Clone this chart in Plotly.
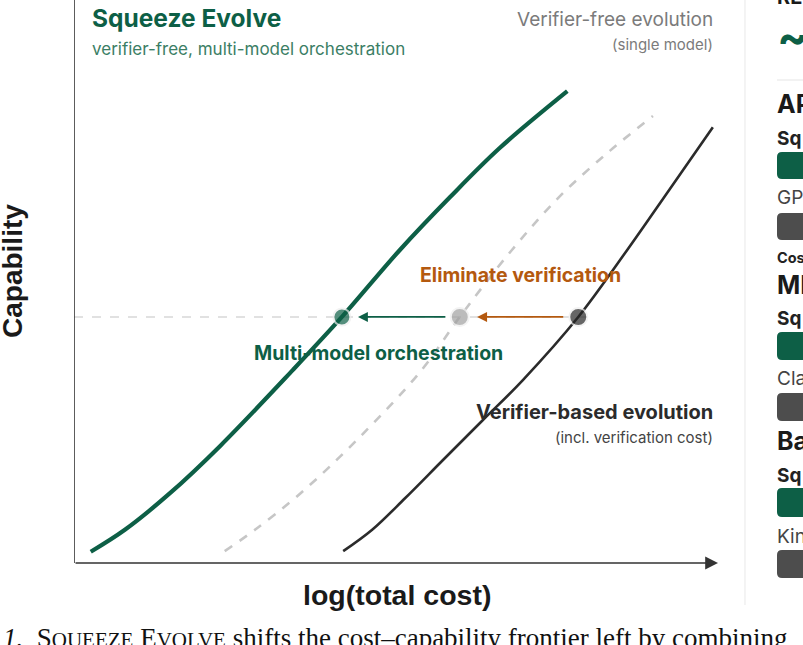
import plotly.graph_objects as go

# ---------------- data (x: log total cost, y: capability; arbitrary 0-100 units) -------------
green_x = [2.6, 7.9, 14.9, 22.7, 34.0, 41.6, 50.6, 58.4, 66.1, 76.6]
green_y = [2.0, 5.9, 12.4, 20.8, 34.3, 43.7, 55.6, 65.0, 73.7, 83.8]
gray_x = [23.4, 28.1, 35.1, 44.4, 54.0, 59.9, 68.0, 75.5, 83.2, 89.9]
gray_y = [2.1, 5.9, 12.3, 22.4, 34.3, 43.7, 55.6, 65.2, 73.2, 79.4]
black_x = [41.8, 46.3, 51.4, 57.3, 63.5, 69.7, 78.3, 85.9, 92.5, 99.2]
black_y = [2.1, 5.9, 11.5, 18.3, 25.4, 32.5, 43.7, 55.6, 66.4, 77.4]
dot_x = [41.6, 59.9, 78.3]
dot_level = 43.7
arrow_green = [57.9, 44.1]    # tail, tip
arrow_orange = [76.2, 62.6]   # tail, tip

GREEN = "#0d5f46"
GREEN_L = "#3b7e65"
ORANGE = "#b4590f"
DARK = "#2b2b2b"
GRAYLINE = "#c6c6c6"
GRAYTXT = "#7b7b7b"

W, H = 803, 645
L, R, T, B = 74, 85, 0, 82
PW, PH = W - L - R, H - T - B


def px(xp):
    return (xp - L) / PW


def py(yp):
    return (H - B - yp) / PH


fig = go.Figure()
fig.add_trace(go.Scatter(x=gray_x, y=gray_y, mode="lines", line=dict(color=GRAYLINE, width=2.6, dash="dash", shape="spline"), hoverinfo="skip"))
fig.add_trace(go.Scatter(x=black_x, y=black_y, mode="lines", line=dict(color=DARK, width=2.6, shape="spline"), hoverinfo="skip"))
fig.add_trace(go.Scatter(x=green_x, y=green_y, mode="lines", line=dict(color=GREEN, width=4.2, shape="spline"), hoverinfo="skip"))
fig.add_trace(go.Scatter(x=dot_x, y=[dot_level] * 3, mode="markers",
                         marker=dict(size=[17, 18, 18], color=[GREEN, "#a0a0a0", "#262626"],
                                     line=dict(color="#eeeeee", width=2)), hoverinfo="skip"))

shapes = []
# dashed reference line
shapes.append(dict(type="line", xref="x", yref="y", x0=0, x1=80.6, y0=dot_level, y1=dot_level,
                   line=dict(color="#d8d8d8", width=1.5, dash="dash"), layer="below"))
# y axis line
shapes.append(dict(type="line", xref="x", yref="paper", x0=0, x1=0, y0=0, y1=1,
                   line=dict(color="#333333", width=1.6)))
# right panel divider
shapes.append(dict(type="line", xref="paper", yref="paper", x0=px(745), x1=px(745), y0=py(0), y1=py(605),
                   line=dict(color="#ececec", width=1.2)))
shapes.append(dict(type="line", xref="paper", yref="paper", x0=px(777), x1=px(900), y0=py(80), y1=py(80),
                   line=dict(color="#e6e6e6", width=1.2)))


def rbar(x0, y0, x1, y1, r, color):
    X0, X1 = px(x0), px(x1)
    Y0, Y1 = py(y0), py(y1)  # Y0 top (larger), Y1 bottom
    rx, ry = r / PW, r / PH
    path = (f"M {X0+rx},{Y0} L {X1-rx},{Y0} Q {X1},{Y0} {X1},{Y0-ry} L {X1},{Y1+ry} Q {X1},{Y1} {X1-rx},{Y1} "
            f"L {X0+rx},{Y1} Q {X0},{Y1} {X0},{Y1+ry} L {X0},{Y0-ry} Q {X0},{Y0} {X0+rx},{Y0} Z")
    return dict(type="path", xref="paper", yref="paper", path=path, fillcolor=color, line=dict(width=0))


panel_bars = [(152, 179, GREEN), (213, 240, "#4d4d4d"), (332, 360, GREEN), (393, 421, "#4d4d4d"),
              (488, 517, GREEN), (550, 578, "#4d4d4d")]
for y0, y1, c in panel_bars:
    shapes.append(rbar(777, y0, 900, y1, 5, c))

ann = []
# x axis arrow
ann.append(dict(x=100, y=0, ax=0, ay=0, xref="x", yref="y", axref="x", ayref="y", text="", showarrow=True,
                arrowhead=2, arrowsize=1.6, arrowwidth=1.6, arrowcolor="#333333"))
# arrows between dots
ann.append(dict(x=arrow_green[1], y=dot_level, ax=arrow_green[0], ay=dot_level, xref="x", yref="y", axref="x",
                ayref="y", text="", showarrow=True, arrowhead=2, arrowsize=1.1, arrowwidth=1.8, arrowcolor=GREEN))
ann.append(dict(x=arrow_orange[1], y=dot_level, ax=arrow_orange[0], ay=dot_level, xref="x", yref="y", axref="x",
                ayref="y", text="", showarrow=True, arrowhead=2, arrowsize=1.1, arrowwidth=1.8, arrowcolor=ORANGE))


def txt(t, x, y, size, color, anchor="left", bold=False, family="Inter", **kw):
    if bold:
        t = f"<b>{t}</b>"
    d = dict(text=t, x=px(x), y=py(y), xref="paper", yref="paper", xanchor=anchor, yanchor="middle",
             showarrow=False, font=dict(size=size, color=color, family=family))
    d.update(kw)
    return d


ann.append(txt("Squeeze Evolve", 90, 18, 24.5, GREEN, bold=True))
ann.append(txt("verifier-free, multi-model orchestration", 90, 49, 17, GREEN_L))
ann.append(txt("Verifier-free evolution", 715, 20, 19, GRAYTXT, anchor="right"))
ann.append(txt("(single model)", 715, 45, 15, GRAYTXT, anchor="right"))
ann.append(txt("Eliminate verification", 520, 275, 19.5, ORANGE, anchor="center", bold=True))
ann.append(txt("Multi-model orchestration", 378, 353, 19.5, GREEN, anchor="center", bold=True))
ann.append(txt("Verifier-based evolution", 715, 412, 20, DARK, anchor="right", bold=True))
ann.append(txt("(incl. verification cost)", 715, 437, 15, "#444444", anchor="right"))

# axis titles
ann.append(txt("log(total cost)", 397, 595, 28.5, "#1a1a1a", anchor="center", bold=True, family="Liberation Sans"))
ann.append(txt("Capability", 12, 271, 28, "#1a1a1a", anchor="center", bold=True, family="Liberation Sans",
               textangle=-90))

# right panel (cropped in the reference; only the visible fragments)
panel_text = [("RE", -3, 20, True, "#1a1a1a"), ("~", 36, 46, True, GREEN),
              ("AP", 104, 25, True, "#1a1a1a"), ("Sq", 138, 19, True, "#222222"),
              ("GP", 198, 19, False, "#444444"), ("Cos", 257, 14.5, True, "#222222"),
              ("MI", 285, 25, True, "#1a1a1a"), ("Sq", 318, 19, True, "#222222"),
              ("Cla", 378, 19, False, "#444444"), ("Ba", 441, 25, True, "#1a1a1a"),
              ("Sq", 475, 19, True, "#222222"), ("Kin", 536, 19, False, "#444444")]
for t, y, s, b, c in panel_text:
    ann.append(txt(t, 775, y, s, c, bold=b))

# caption (cropped)
cap = ("<i>1.</i>  S<span style='font-size:21px'>QUEEZE</span> E<span style='font-size:21px'>VOLVE</span>"
       " shifts the cost–capability frontier left by combining")
ann.append(dict(text=cap, x=px(1), y=py(638), xref="paper", yref="paper", xanchor="left", yanchor="middle",
                showarrow=False, font=dict(size=27, color="#111111", family="Liberation Serif")))

fig.update_layout(
    width=W, height=H, margin=dict(l=L, r=R, t=T, b=B),
    paper_bgcolor="white", plot_bgcolor="white", showlegend=False,
    xaxis=dict(range=[0, 100], visible=False, fixedrange=True),
    yaxis=dict(range=[0, 100], visible=False, fixedrange=True),
    shapes=shapes, annotations=ann,
)
fig.write_html("out.html", config={"displayModeBar": False},
               post_script="document.body.style.margin='0px';document.body.style.overflow='hidden';")
